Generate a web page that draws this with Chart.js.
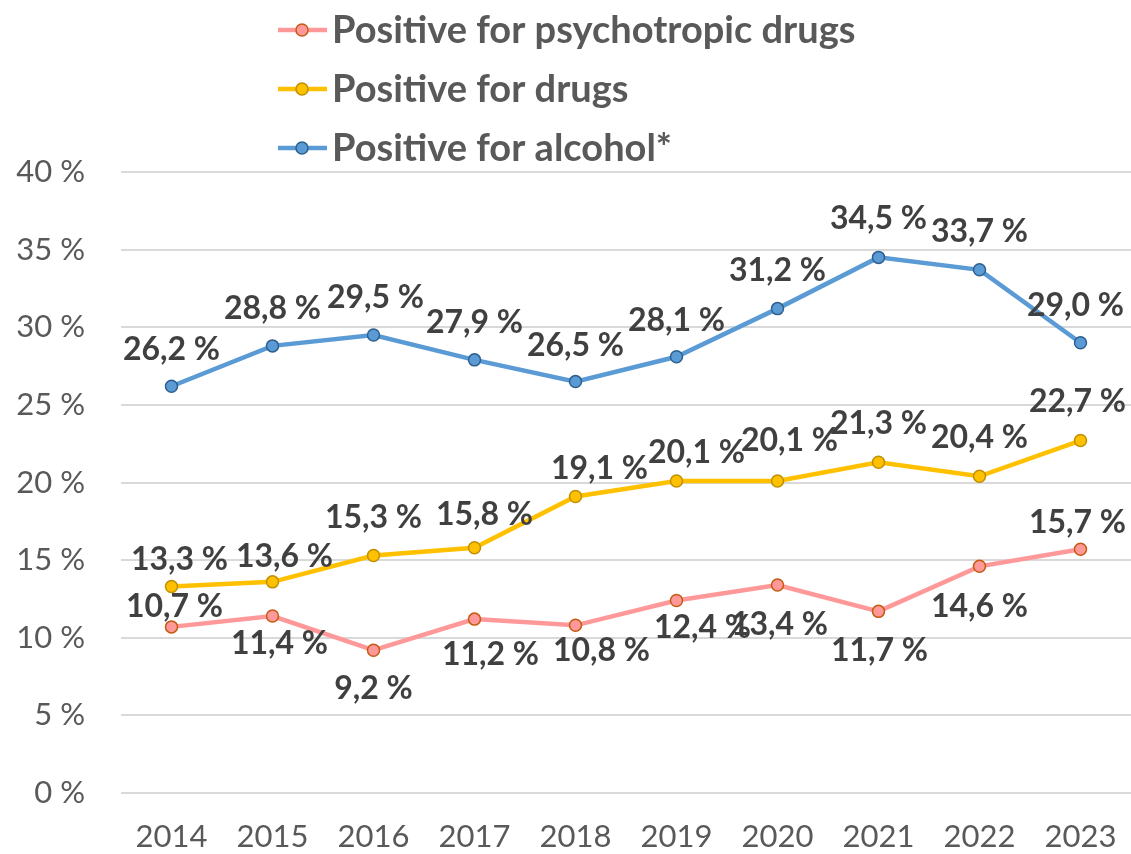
<!DOCTYPE html>
<html>
<head>
<meta charset="utf-8">
<script src="https://cdn.jsdelivr.net/npm/chart.js@4/dist/chart.umd.min.js"></script>
<style>
  html, body { margin: 0; padding: 0; overflow: hidden; background: #ffffff; }
  #wrap { width: 1131px; height: 854px; position: relative; }
</style>
</head>
<body>
<div id="wrap"><canvas id="chart"></canvas></div>
<script>
// data
var years = ['2014', '2015', '2016', '2017', '2018', '2019', '2020', '2021', '2022', '2023'];
var psychotropic = [10.7, 11.4, 9.2, 11.2, 10.8, 12.4, 13.4, 11.7, 14.6, 15.7];
var drugs = [13.3, 13.6, 15.3, 15.8, 19.1, 20.1, 20.1, 21.3, 20.4, 22.7];
var alcohol = [26.2, 28.8, 29.5, 27.9, 26.5, 28.1, 31.2, 34.5, 33.7, 29.0];
var seriesNames = ['Positive for psychotropic drugs', 'Positive for drugs', 'Positive for alcohol*'];
var yTicks = [0, 5, 10, 15, 20, 25, 30, 35, 40];

// where each value label sits relative to its point (px)
var labelDx = [
    [3, 7, 0, 16, 26, 26, 2, 1, 0, -3],
    [8, 12, 0, 10, 24, 20, 12, 0, 0, -3],
    [0, 0, 2, 0, 0, 0, 0, 0, 0, -5]
];
var labelDy = [
    [-20, 28, 39, 36, 25, 27, 40, 39, 40, -27],
    [-27, -25, -38, -33, -28, -28, -40, -39, -39, -39],
    [-37, -37, -37, -37, -36, -36, -38, -39, -38, -37]
];

var FONT = 'Lato, "Open Sans", sans-serif';

function fmt(v) {
    return v.toFixed(1).replace('.', ',') + ' %';
}

function makeSet(label, values, color, border) {
    return {
        label: label,
        data: values,
        borderColor: color,
        backgroundColor: color,
        borderWidth: 4.5,
        pointRadius: 6,
        pointHoverRadius: 6,
        pointBackgroundColor: color,
        pointBorderColor: border,
        pointBorderWidth: 1.5,
        tension: 0
    };
}

var valueLabels = {
    id: 'valueLabels',
    afterDatasetsDraw(chart) {
        var ctx = chart.ctx;
        ctx.save();
        ctx.font = 'bold 32px ' + FONT;
        ctx.fillStyle = '#404040';
        ctx.textAlign = 'center';
        ctx.textBaseline = 'middle';
        chart.data.datasets.forEach((ds, i) => {
            var meta = chart.getDatasetMeta(i);
            meta.data.forEach((pt, j) => {
                ctx.fillText(fmt(ds.data[j]), pt.x + labelDx[i][j], pt.y + labelDy[i][j]);
            });
        });
        ctx.restore();
    }
};

var lineLegend = {
    id: 'lineLegend',
    afterDraw(chart) {
        var ctx = chart.ctx;
        ctx.save();
        var rows = [30, 89, 148];
        chart.data.datasets.forEach((ds, i) => {
            var y = rows[i];
            ctx.strokeStyle = ds.borderColor;
            ctx.lineWidth = 4.5;
            ctx.beginPath();
            ctx.moveTo(278, y);
            ctx.lineTo(327, y);
            ctx.stroke();
            ctx.beginPath();
            ctx.arc(302, y, 6, 0, Math.PI * 2);
            ctx.fillStyle = ds.pointBackgroundColor;
            ctx.fill();
            ctx.lineWidth = 1.5;
            ctx.strokeStyle = ds.pointBorderColor;
            ctx.stroke();
            ctx.font = 'bold 38px ' + FONT;
            ctx.fillStyle = '#595959';
            ctx.textAlign = 'left';
            ctx.textBaseline = 'middle';
            ctx.fillText(ds.label, 332, y + 1);
        });
        ctx.restore();
    }
};

const ctx = document.getElementById('chart');

var myChart = new Chart(ctx, {
    type: 'line',
    data: {
        labels: years,
        datasets: [
            makeSet(seriesNames[0], psychotropic, '#ff9999', '#c55a11'),
            makeSet(seriesNames[1], drugs, '#ffc000', '#bf9000'),
            makeSet(seriesNames[2], alcohol, '#5b9bd5', '#2e5f8f')
        ]
    },
    options: {
        responsive: true,
        maintainAspectRatio: false,
        animation: false,
        layout: { autoPadding: false, padding: { top: 172, right: 0, left: 0, bottom: 0 } },
        plugins: {
            legend: { display: false },
            tooltip: { enabled: false }
        },
        scales: {
            x: {
                offset: true,
                grid: { display: false, drawTicks: false },
                border: { display: false },
                ticks: {
                    color: '#595959',
                    font: { family: FONT, size: 31 },
                    padding: 25,
                    maxRotation: 0
                },
                afterFit(scale) {
                    scale.height = 61;
                    scale.paddingLeft = 0;
                    scale.paddingRight = 0;
                }
            },
            y: {
                min: 0,
                max: 40,
                afterBuildTicks(scale) { scale.ticks = yTicks.map(v => ({ value: v })); },
                grid: { color: '#d9d9d9', lineWidth: 2, drawTicks: false },
                border: { display: false },
                ticks: {
                    color: '#595959',
                    font: { family: FONT, size: 31 },
                    padding: 36,
                    callback: v => v + ' %'
                },
                afterFit(scale) {
                    scale.width = 121;
                    scale.paddingTop = 0;
                    scale.paddingBottom = 0;
                }
            }
        }
    },
    plugins: [valueLabels, lineLegend]
});
</script>
</body>
</html>
